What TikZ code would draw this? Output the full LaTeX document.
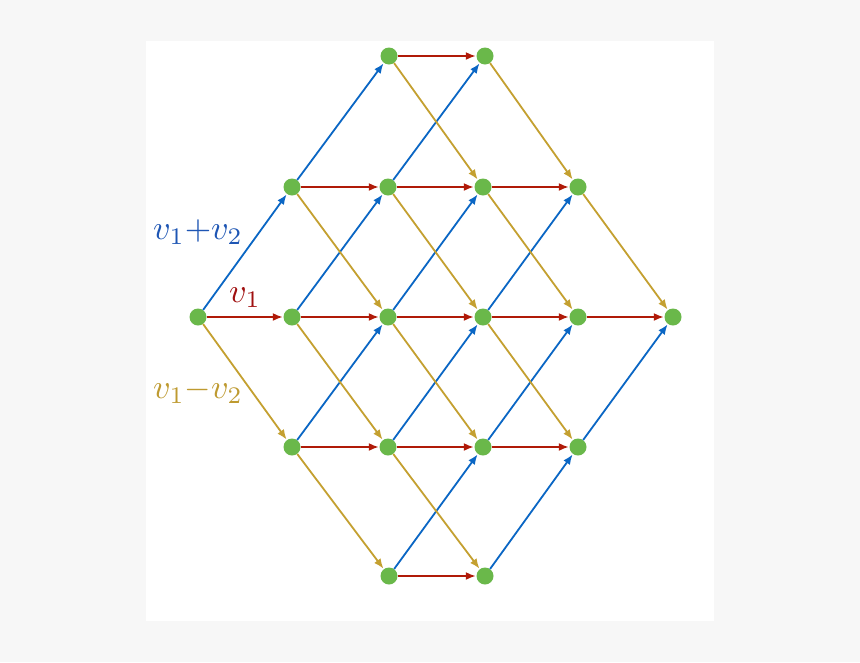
\documentclass[tikz,border=0pt]{standalone}
\usetikzlibrary{arrows.meta}
\definecolor{bg}{HTML}{F7F7F7}
\definecolor{nodegreen}{HTML}{6AB84A}
\definecolor{cred}{HTML}{B01A08}
\definecolor{cblue}{HTML}{0A66C4}
\definecolor{cyel}{HTML}{C4A030}
\definecolor{lblue}{HTML}{1E56B4}
\definecolor{lred}{HTML}{A01010}
\definecolor{lyel}{HTML}{BE9A30}
\newcommand{\biglab}[1]{\scalebox{3.4}{$#1$}}
\tikzset{
  pt/.style={circle,fill=nodegreen,minimum size=17pt,inner sep=0pt},
  arr/.style={line width=1.8pt,-{Latex[length=10pt,width=8pt]},shorten >=0.5pt},
  er/.style={arr,cred},
  eb/.style={arr,cblue},
  ey/.style={arr,cyel},
  lab/.style={inner sep=0pt}
}
\begin{document}
\begin{tikzpicture}[x=1pt,y=-1pt]
\fill[bg] (0,0) rectangle (860,662);
\fill[white] (146,41) rectangle (714,621);
\useasboundingbox (0,0) rectangle (860,662);
% nodes
\node[pt] (a) at (198,317) {};
\node[pt] (b1) at (292,187) {};
\node[pt] (b2) at (292,317) {};
\node[pt] (b3) at (292,447) {};
\node[pt] (c0) at (389,56) {};
\node[pt] (c1) at (388,187) {};
\node[pt] (c2) at (388,317) {};
\node[pt] (c3) at (388,447) {};
\node[pt] (c4) at (389,576) {};
\node[pt] (d0) at (485,56) {};
\node[pt] (d1) at (483,187) {};
\node[pt] (d2) at (483,317) {};
\node[pt] (d3) at (483,447) {};
\node[pt] (d4) at (485,576) {};
\node[pt] (e1) at (578,187) {};
\node[pt] (e2) at (578,317) {};
\node[pt] (e3) at (578,447) {};
\node[pt] (f) at (673,317) {};
% red
\foreach \s/\t in {a/b2,b1/c1,b2/c2,b3/c3,c0/d0,c1/d1,c2/d2,c3/d3,c4/d4,d1/e1,d2/e2,d3/e3,e2/f}
  \draw[er] (\s) -- (\t);
% blue
\foreach \s/\t in {a/b1,b1/c0,b2/c1,b3/c2,c1/d0,c2/d1,c3/d2,c4/d3,d2/e1,d3/e2,d4/e3,e3/f}
  \draw[eb] (\s) -- (\t);
% yellow
\foreach \s/\t in {a/b3,b1/c2,b2/c3,b3/c4,c0/d1,c1/d2,c2/d3,c3/d4,d0/e1,d1/e2,d2/e3,e1/f}
  \draw[ey] (\s) -- (\t);
% labels
\node[lab,text=lblue] (l1) at (198,232) {\biglab{v_1{+}v_2}};
\node[lab,text=lred] (l2) at (245,298) {\biglab{v_1}};
\node[lab,text=lyel] (l3) at (198,391) {\biglab{v_1{-}v_2}};
\end{tikzpicture}
\end{document}
